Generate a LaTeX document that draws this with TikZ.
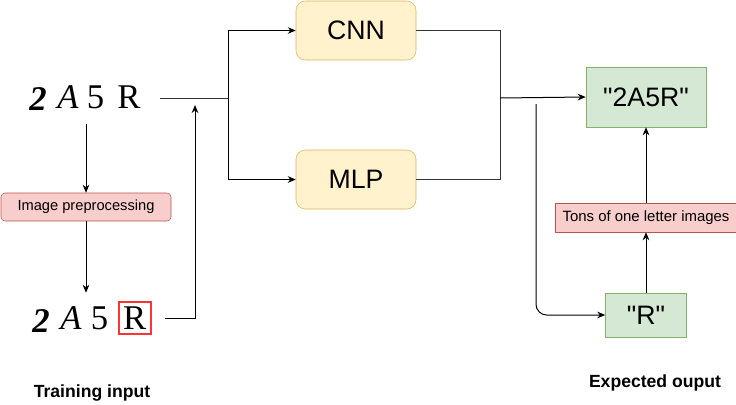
\documentclass[tikz,border=0pt]{standalone}
\usepackage{fontspec}
\setmainfont{Liberation Sans}
\newfontfamily\capfont{Liberation Serif}
\definecolor{dyellow}{HTML}{FFF2CC}
\definecolor{dyellowline}{HTML}{D6B656}
\definecolor{dred}{HTML}{F8CECC}
\definecolor{dredline}{HTML}{B85450}
\definecolor{dgreen}{HTML}{D5E8D4}
\definecolor{dgreenline}{HTML}{82B366}
\definecolor{markred}{HTML}{FF3333}
\definecolor{wire}{HTML}{333333}
\usetikzlibrary{arrows.meta,positioning,calc}

\begin{document}
\begin{tikzpicture}[x=0.75pt,y=-0.75pt,
  model/.style={
    rectangle, rounded corners=7pt,
    draw=dyellowline, fill=dyellow,
    minimum width=90pt, minimum height=44.25pt,
    font=\fontsize{20}{22}\selectfont
  },
  result/.style={
    rectangle, draw=dgreenline, fill=dgreen,
    font=\fontsize{20}{22}\selectfont
  },
  note/.style={
    rectangle, draw=dredline, fill=dred,
    inner xsep=2pt, font=\fontsize{11}{13}\selectfont
  },
  captcha/.style={
    inner sep=0pt, font=\capfont\fontsize{26}{26}\selectfont
  },
  caption/.style={font=\fontsize{13.2}{15}\selectfont\bfseries},
  conn/.style={-{Stealth[length=6pt,width=5pt]}, line width=0.75pt, draw=black},
  wireline/.style={line width=0.75pt, draw=wire}
]
\useasboundingbox (0,0) rectangle (736,404);

% Training input, raw and cut
\node[captcha, minimum width=112.5pt, minimum height=39pt] (rawtext) at (85,98)
  {\raisebox{-2pt}{\textbf{\textit{2}}}\hspace{8pt}\textit{A}\hspace{6pt}5\hspace{10pt}R};
\node[note, rounded corners=3pt, minimum width=127.5pt, minimum height=21pt] (prep) at (86,207)
  {Image preprocessing};
\node[captcha, minimum width=109.5pt, minimum height=37.5pt] (cuttext) at (92,318)
  {\raisebox{-2pt}{\textbf{\textit{2}}}\hspace{8pt}\textit{A}\hspace{7pt}5\hspace{7pt}%
   \setlength{\fboxrule}{1.6pt}\setlength{\fboxsep}{2.5pt}\fcolorbox{markred}{white}{R}};

% Models
\node[model] (cnn) at (356,30.5) {CNN};
\node[model] (mlp) at (356,179.5) {MLP};

% Expected output
\node[result, minimum width=90pt, minimum height=45pt] (word) at (646,97) {\textquotedbl 2A5R\textquotedbl};
\node[note, font=\fontsize{11.2}{13}\selectfont, minimum width=135.75pt, minimum height=21.75pt] (tons) at (646,217.5)
  {Tons of one letter images};
\node[result, minimum width=60.75pt, minimum height=33pt] (letter) at (646,315) {\textquotedbl R\textquotedbl};

\coordinate (fork) at (228,98);
\coordinate (up) at (195,105);
\coordinate (join) at (500,98);
\coordinate (tap) at (536,104);

\draw[conn] (rawtext.south -| prep.north) -- (prep.north);
\draw[conn] (prep.south) -- (prep.south |- cuttext.north);
\draw[wireline] (rawtext.east) -- (fork);
\draw[conn] (fork) |- (cnn.west);
\draw[conn] (fork) |- (mlp.west);
\draw[conn] (cuttext.east) -| (up);

\draw[wireline] (cnn.east) -| (join);
\draw[wireline] (mlp.east) -| (join);
\draw[conn] (join) -- (word.west);
\draw[conn, rounded corners=8pt] (tap) |- (letter.west);
\draw[conn] (letter.north) -- (tons.south);
\draw[conn] (tons.north) -- (word.south);

% Captions
\node[caption] (traincap) at (92,393) {Training input};
\node[caption] (expcap) at (655,383) {Expected ouput};
\end{tikzpicture}
\end{document}
